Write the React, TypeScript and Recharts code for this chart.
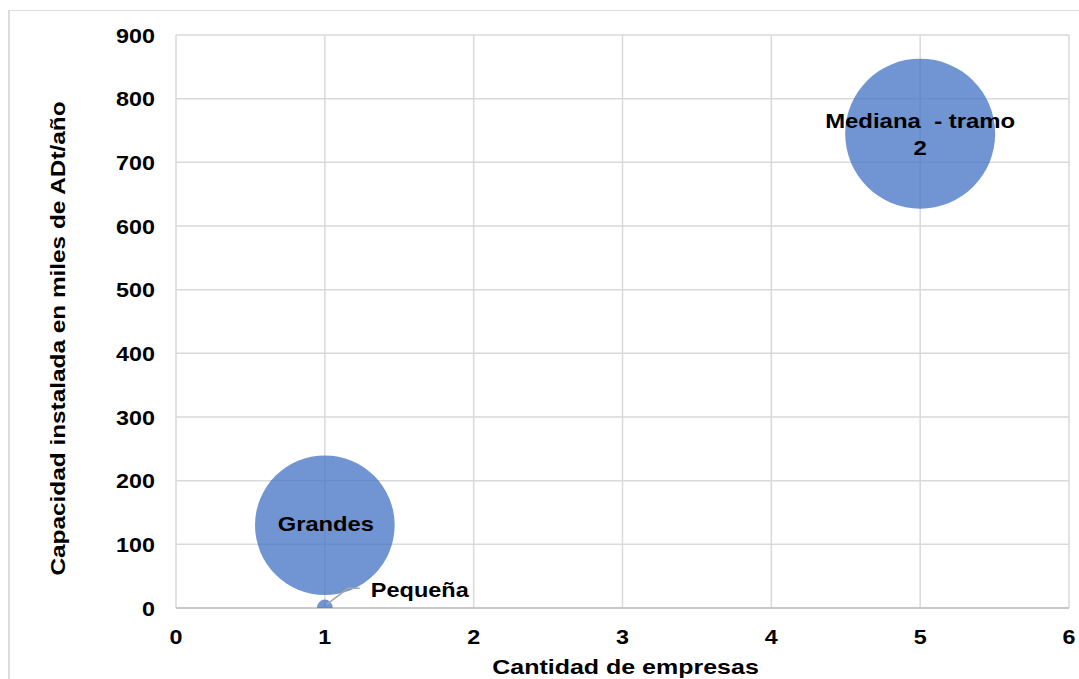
import React from 'react'
import {
  ScatterChart, Scatter, XAxis, YAxis, ZAxis, CartesianGrid, LabelList,
} from 'recharts'

const categories = ['Pequeña', 'Grandes', 'Mediana  - tramo 2']
const companyCount = [1, 1, 5]
const capacity = [1, 130, 745]
const bubbleSize = [8, 650, 750]
const xTicks = [0, 1, 2, 3, 4, 5, 6]
const yTicks = [0, 100, 200, 300, 400, 500, 600, 700, 800, 900]

const FONT = '"Liberation Sans", Arial, sans-serif'
const FS = 21
const BUBBLE = '#4472C4'

const data = categories.map((name, i) => ({
  name,
  x: companyCount[i],
  y: capacity[i],
  z: bubbleSize[i],
}))

// Excel draws this font noticeably wider than the browser does
function WideText({ x, y, anchor = 'middle', scale = 1.13, children }: any) {
  return (
    <text
      transform={`translate(${x},${y}) scale(${scale},1)`}
      textAnchor={anchor}
      fontFamily={FONT}
      fontSize={FS}
      fontWeight="700"
      fill="#000"
      style={{ whiteSpace: 'pre' }}
    >
      {children}
    </text>
  )
}

function YTick({ x, y, payload }: any) {
  return <WideText x={x} y={y + 7.5} anchor="end" scale={1.11}>{payload.value}</WideText>
}

function XTick({ x, y, payload }: any) {
  return <WideText x={x} y={y + 36} scale={1.11}>{payload.value}</WideText>
}

function BubbleLabel(props: any) {
  const { x, y, width, height, index } = props
  const cx = x + width / 2
  const cy = y + height / 2
  const name = categories[index]
  if (name === 'Pequeña') {
    return (
      <g>
        <polyline
          points={`${cx + 2},${cy - 3} ${cx + 23},${cy - 19} ${cx + 35},${cy - 19}`}
          fill="none"
          stroke="#a6a6a6"
          strokeWidth={1.5}
        />
        <WideText x={cx + 46} y={cy - 10} anchor="start" scale={1.12}>{name}</WideText>
      </g>
    )
  }
  if (name.startsWith('Mediana')) {
    return (
      <g>
        <WideText x={cx} y={cy - 6} scale={1.14}>{'Mediana\u00a0 - tramo'}</WideText>
        <WideText x={cx} y={cy + 21} scale={1.14}>2</WideText>
      </g>
    )
  }
  return <WideText x={cx + 1} y={cy + 6} scale={1.13}>{name}</WideText>
}

function YTitle(props: any) {
  const { viewBox } = props
  const cx = 58
  const cy = viewBox.y + viewBox.height / 2 + 17
  return (
    <text
      transform={`translate(${cx + 7},${cy}) rotate(-90) scale(1.16,1)`}
      textAnchor="middle"
      fontFamily={FONT}
      fontSize={FS}
      fontWeight="700"
      fill="#000"
    >
      Capacidad instalada en miles de ADt/año
    </text>
  )
}

function XTitle(props: any) {
  const { viewBox } = props
  const cx = viewBox.x + viewBox.width / 2 + 3
  return (
    <text
      transform={`translate(${cx},674) scale(1.19,1)`}
      textAnchor="middle"
      fontFamily={FONT}
      fontSize={FS}
      fontWeight="700"
      fill="#000"
    >
      Cantidad de empresas
    </text>
  )
}

export default function App() {
  return (
    <div style={{ position: 'fixed', left: 0, top: 0, width: 1079, height: 679, overflow: 'hidden', background: '#fff' }}>
      <div
        style={{
          position: 'absolute', left: 8, top: 10, width: 1200, height: 800,
          borderLeft: '2px solid #dcdcdc', borderTop: '1.5px solid #dcdcdc',
        }}
      />
      <div style={{ position: 'absolute', left: 0, top: 0 }}>
        <ScatterChart width={1079} height={679} margin={{ top: 35, right: 10, bottom: 0, left: 0 }}>
          <CartesianGrid stroke="#d9d9d9" strokeWidth={1.5} />
          <XAxis
            type="number"
            dataKey="x"
            domain={[0, 6]}
            ticks={xTicks}
            height={71}
            tickSize={0}
            tickMargin={0}
            axisLine={{ stroke: '#bfbfbf', strokeWidth: 1.5 }}
            tickLine={false}
            tick={<XTick />}
            label={{ content: <XTitle /> }}
          />
          <YAxis
            type="number"
            dataKey="y"
            domain={[0, 900]}
            ticks={yTicks}
            width={176}
            tickSize={0}
            tickMargin={21}
            axisLine={false}
            tickLine={false}
            allowDataOverflow
            tick={<YTick />}
            label={{ content: <YTitle /> }}
          />
          <ZAxis type="number" dataKey="z" domain={[0, 750]} range={[0, Math.PI * 75 * 75]} />
          <Scatter
            data={data}
            fill={BUBBLE}
            fillOpacity={0.76}
            isAnimationActive={false}
          >
            <LabelList dataKey="name" content={<BubbleLabel />} />
          </Scatter>
        </ScatterChart>
      </div>
    </div>
  )
}
